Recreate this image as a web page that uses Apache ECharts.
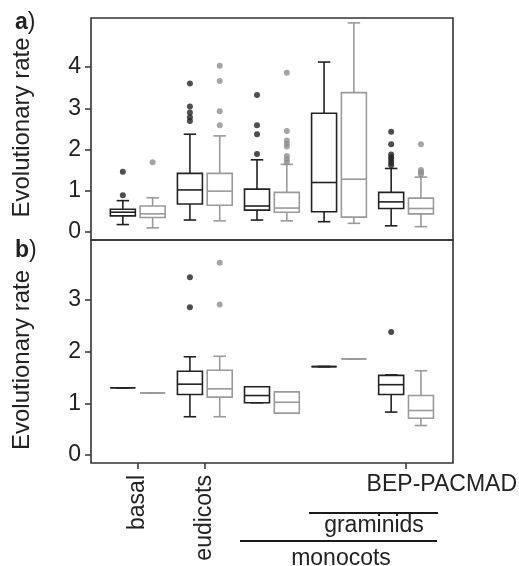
<!DOCTYPE html>
<html>
<head>
<meta charset="utf-8">
<script src="https://cdn.jsdelivr.net/npm/echarts@6/dist/echarts.min.js"></script>
<style>
html,body{margin:0;padding:0;background:#fff;}
#c{width:519px;height:566px;}
</style>
</head>
<body>
<div id="c"></div>
<script>
// ---------- data ----------
var categories = ['basal', 'eudicots', 'monocots', 'graminids', 'BEP-PACMAD'];
var panelLabels = ['a', 'b'];
var yTitle = 'Evolutionary rate';
var ticksA = [0, 1, 2, 3, 4];
var ticksB = [0, 1, 2, 3];

// [min, Q1, median, Q3, max]
var aBlack = [
  [0.18, 0.39, 0.48, 0.55, 0.76],
  [0.29, 0.68, 1.02, 1.42, 2.37],
  [0.29, 0.53, 0.63, 1.04, 1.75],
  [0.25, 0.49, 1.20, 2.88, 4.12],
  [0.15, 0.57, 0.73, 0.96, 1.54]
];
var aGray = [
  [0.10, 0.35, 0.44, 0.63, 0.83],
  [0.27, 0.65, 0.99, 1.42, 2.33],
  [0.27, 0.48, 0.58, 0.96, 1.64],
  [0.21, 0.36, 1.28, 3.38, 5.07],
  [0.13, 0.44, 0.57, 0.82, 1.33]
];
var aBlackOut = [
  [1.46, 0.89],
  [3.60, 3.04, 2.90, 2.78, 2.69],
  [3.32, 2.59, 2.37, 1.89],
  [],
  [2.43, 2.13, 1.88, 1.81, 1.75, 1.68, 1.62]
];
var aGrayOut = [
  [1.69],
  [4.03, 3.66, 2.93, 2.59],
  [3.86, 2.45, 2.22, 2.14, 2.07, 1.84, 1.76, 1.69],
  [],
  [2.13, 1.50, 1.45, 1.40]
];

var bBlack = [
  [1.30, 1.30, 1.30, 1.30, 1.30],
  [0.74, 1.17, 1.37, 1.62, 1.90],
  [1.01, 1.01, 1.15, 1.32, 1.32],
  [1.71, 1.71, 1.71, 1.71, 1.71],
  [0.83, 1.17, 1.36, 1.54, 1.55]
];
var bGray = [
  [1.20, 1.20, 1.20, 1.20, 1.20],
  [0.74, 1.12, 1.28, 1.64, 1.91],
  [0.81, 0.81, 1.02, 1.22, 1.22],
  [1.86, 1.86, 1.86, 1.86, 1.86],
  [0.57, 0.71, 0.86, 1.15, 1.63]
];
var bBlackOut = [[], [3.44, 2.86], [], [], [2.38]];
var bGrayOut = [[], [3.72, 2.91], [], [], []];

// ---------- style ----------
var FONT = "'Liberation Sans', Arial, Helvetica, sans-serif";
var DARK = '#222222';
var GRAY = '#9a9a9a';
var GRAY_DOT = '#8e8e8e';
var FRAME = '#333333';
var BOX_W = 25;
var OFFSET = 14.9;

function boxData(arr) {
  return arr.map(function (s, i) { return [i].concat(s); });
}
function outData(arr) {
  var out = [];
  arr.forEach(function (vals, i) { vals.forEach(function (v) { out.push([i, v]); }); });
  return out;
}
function boxRender(off, color) {
  return function (params, api) {
    var cat = api.value(0);
    var mn = api.value(1), q1 = api.value(2), md = api.value(3), q3 = api.value(4), mx = api.value(5);
    var cx = api.coord([cat, md])[0] + off;
    var Y = function (v) { return api.coord([cat, v])[1]; };
    var hw = BOX_W / 2, cw = BOX_W / 4;
    var ls = { stroke: color, lineWidth: 1.6, fill: null };
    return {
      type: 'group',
      children: [
        { type: 'line', shape: { x1: cx, y1: Y(q3), x2: cx, y2: Y(mx) }, style: ls },
        { type: 'line', shape: { x1: cx, y1: Y(q1), x2: cx, y2: Y(mn) }, style: ls },
        { type: 'line', shape: { x1: cx - cw, y1: Y(mx), x2: cx + cw, y2: Y(mx) }, style: ls },
        { type: 'line', shape: { x1: cx - cw, y1: Y(mn), x2: cx + cw, y2: Y(mn) }, style: ls },
        { type: 'rect', shape: { x: cx - hw, y: Y(q3), width: BOX_W, height: Y(q1) - Y(q3) },
          style: { stroke: color, lineWidth: 1.6, fill: '#ffffff' } },
        { type: 'line', shape: { x1: cx - hw, y1: Y(md), x2: cx + hw, y2: Y(md) }, style: ls }
      ]
    };
  };
}
function boxSeries(arr, gi, off, color) {
  return {
    type: 'custom', xAxisIndex: gi, yAxisIndex: gi,
    data: boxData(arr), encode: { x: 0, y: [1, 2, 3, 4, 5] },
    renderItem: boxRender(off, color), silent: true
  };
}
function outSeries(arr, gi, off, color) {
  return {
    type: 'scatter', xAxisIndex: gi, yAxisIndex: gi,
    data: outData(arr), symbol: 'circle', symbolSize: 6,
    symbolOffset: [off, 0], itemStyle: { color: color }, silent: true
  };
}

var chart = echarts.init(document.getElementById('c'), null, { renderer: 'canvas' });

var option = {
  animation: false,
  backgroundColor: '#ffffff',
  textStyle: { fontFamily: FONT },
  grid: [
    { left: 104.2, width: 335.4, top: 18, height: 222 },
    { left: 104.2, width: 335.4, top: 240, height: 223 },
    { left: 91, width: 10, top: 67, height: 165 },
    { left: 91, width: 10, top: 299.9, height: 155.1 }
  ],
  xAxis: [
    { type: 'category', gridIndex: 0, data: categories, show: false },
    { type: 'category', gridIndex: 1, data: categories, position: 'bottom',
      axisLine: { show: false, onZero: false },
      axisTick: { show: true, alignWithLabel: true, length: 6,
        interval: function (i) { return i === 0 || i === 1 || i === 4; },
        lineStyle: { color: FRAME, width: 1.5 } },
      axisLabel: { interval: 0, rotate: 90, margin: 12, fontSize: 23, color: DARK, fontFamily: FONT,
        formatter: function (v, i) { return (i === 0 || i === 1) ? v : ''; } } },
    { type: 'value', gridIndex: 2, min: 0, max: 1, show: false },
    { type: 'value', gridIndex: 3, min: 0, max: 1, show: false }
  ],
  yAxis: [
    { type: 'value', gridIndex: 0, min: -0.194, max: 5.188, show: false },
    { type: 'value', gridIndex: 1, min: -0.155, max: 4.159, show: false },
    { type: 'value', gridIndex: 2, min: ticksA[0], max: ticksA[ticksA.length - 1], interval: 1,
      axisLine: { show: false }, splitLine: { show: false },
      axisTick: { show: true, length: 6, lineStyle: { color: FRAME, width: 1.5 } },
      axisLabel: { fontSize: 23, color: DARK, margin: 10, fontFamily: FONT } },
    { type: 'value', gridIndex: 3, min: ticksB[0], max: ticksB[ticksB.length - 1], interval: 1,
      axisLine: { show: false }, splitLine: { show: false },
      axisTick: { show: true, length: 6, lineStyle: { color: FRAME, width: 1.5 } },
      axisLabel: { fontSize: 23, color: DARK, margin: 10, fontFamily: FONT } }
  ],
  series: [
    boxSeries(aBlack, 0, -OFFSET, DARK),
    boxSeries(aGray, 0, OFFSET, GRAY),
    outSeries(aBlackOut, 0, -OFFSET, DARK),
    outSeries(aGrayOut, 0, OFFSET, GRAY_DOT),
    boxSeries(bBlack, 1, -OFFSET, DARK),
    boxSeries(bGray, 1, OFFSET, GRAY),
    outSeries(bBlackOut, 1, -OFFSET, DARK),
    outSeries(bGrayOut, 1, OFFSET, GRAY_DOT)
  ],
  graphic: [
    { type: 'rect', shape: { x: 91, y: 18, width: 362, height: 222 },
      style: { fill: null, stroke: FRAME, lineWidth: 1.6 }, z: 100, silent: true },
    { type: 'rect', shape: { x: 91, y: 240, width: 362, height: 223 },
      style: { fill: null, stroke: FRAME, lineWidth: 1.6 }, z: 100, silent: true },
    { type: 'text', x: 15, y: 23, silent: true,
      style: { text: '{b|' + panelLabels[0] + '})', font: '23px ' + FONT, fill: DARK,
        verticalAlign: 'middle', align: 'left',
        rich: { b: { fontWeight: 'bold', fontSize: 23, fontFamily: FONT, fill: DARK } } } },
    { type: 'text', x: 15, y: 251, silent: true,
      style: { text: '{b|' + panelLabels[1] + '})', font: '23px ' + FONT, fill: DARK,
        verticalAlign: 'middle', align: 'left',
        rich: { b: { fontWeight: 'bold', fontSize: 23, fontFamily: FONT, fill: DARK } } } },
    { type: 'text', x: 22, y: 127.5, rotation: Math.PI / 2, silent: true,
      style: { text: yTitle, font: '24px ' + FONT, fill: DARK, align: 'center', verticalAlign: 'middle' } },
    { type: 'text', x: 22, y: 360, rotation: Math.PI / 2, silent: true,
      style: { text: yTitle, font: '24px ' + FONT, fill: DARK, align: 'center', verticalAlign: 'middle' } },
    { type: 'text', x: 517, y: 485, silent: true,
      style: { text: categories[4], font: '23px ' + FONT, fill: DARK, align: 'right', verticalAlign: 'middle' } },
    { type: 'line', shape: { x1: 309, y1: 513, x2: 438, y2: 513 }, silent: true,
      style: { stroke: '#1a1a1a', lineWidth: 2 } },
    { type: 'text', x: 374, y: 526, silent: true,
      style: { text: categories[3], font: '23px ' + FONT, fill: DARK, align: 'center', verticalAlign: 'middle' } },
    { type: 'line', shape: { x1: 240, y1: 541, x2: 437, y2: 541 }, silent: true,
      style: { stroke: '#1a1a1a', lineWidth: 2 } },
    { type: 'text', x: 341, y: 559, silent: true,
      style: { text: categories[2], font: '23px ' + FONT, fill: DARK, align: 'center', verticalAlign: 'middle' } }
  ]
};
chart.setOption(option);
</script>
</body>
</html>
